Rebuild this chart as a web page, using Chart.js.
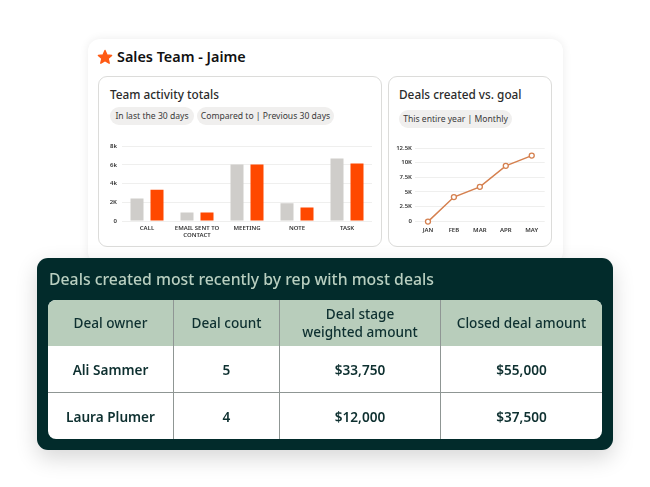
<!DOCTYPE html>
<html lang="en">
<head>
<meta charset="UTF-8">
<title>Sales Team - Jaime</title>
<script src="https://cdn.jsdelivr.net/npm/chart.js"></script>
<style>
    html, body { margin: 0; padding: 0; background: #fff; }
    body { width: 650px; height: 487px; position: relative; overflow: hidden; font-family: "Noto Sans", sans-serif; color: #1f2a2a; }
    .abs { position: absolute; white-space: nowrap; }
    .card { position: absolute; left: 88px; top: 39px; width: 475px; height: 225px; background: #fff; border-radius: 12px; box-shadow: 0 0 10px rgba(0,0,0,0.08); }
    .panel { position: absolute; top: 76px; height: 171px; background: #fff; border: 1.5px solid #dcdcda; border-radius: 9px; box-sizing: border-box; }
    .heading { font-size: 14.4px; font-weight: 600; color: #111; }
    .sub { font-size: 11.8px; font-weight: 500; color: #2b2b2b; }
    .pill { position: absolute; height: 18px; line-height: 18px; border-radius: 9px; background: #f0efee; font-size: 8.6px; text-align: center; color: #3a3a3a; white-space: nowrap; }
    canvas { position: absolute; }
    .dark { position: absolute; left: 37px; top: 258px; width: 576px; height: 192px; background: #022b2b; border-radius: 11px; box-shadow: 0 8px 22px rgba(0,0,0,0.16); }
    .dark-title { position: absolute; left: 49px; top: 268px; font-size: 15.8px; font-weight: 500; color: #b9cfc0; white-space: nowrap; }
    table { position: absolute; left: 48px; top: 300px; width: 554px; height: 139px; border-collapse: separate; border-spacing: 0; table-layout: fixed; border-radius: 8px; overflow: hidden; background: #fff; }
    th, td { text-align: center; padding: 0; font-size: 13.6px; font-weight: 600; color: #0e3030; border-right: 1px solid #8f9694; }
    th { background: #b8cdbb; font-weight: 500; line-height: 18.5px; height: 46px; }
    td { height: 46px; border-top: 1px solid #8f9694; }
    tr > :last-child { border-right: 0; }
    tbody tr:first-child td { border-top: 0; }
</style>
</head>
<body>
    <div class="card"></div>
    <svg class="abs" style="left:97px;top:49px" width="16" height="16" viewBox="0 0 16 16">
        <polygon points="8,1.5 10,6 14.6,6.4 11.1,9.5 12.2,14.2 8,11.7 3.8,14.2 4.9,9.5 1.4,6.4 6,6" fill="#ff5a14" stroke="#ff5a14" stroke-width="1.4" stroke-linejoin="round"/>
    </svg>
    <div class="abs heading" id="mainTitle" style="left:117px;top:47px"></div>

    <div class="panel" style="left:98px;width:284px"></div>
    <div class="abs sub" id="barTitle" style="left:110px;top:86px"></div>
    <div class="pill" id="pill1" style="left:110px;top:107px;width:84px"></div>
    <div class="pill" id="pill2" style="left:197px;top:107px;width:137px"></div>
    <canvas id="barChart" width="272" height="107" style="left:100px;top:138px"></canvas>

    <div class="panel" style="left:388px;width:164px"></div>
    <div class="abs sub" id="lineTitle" style="left:399px;top:86px"></div>
    <div class="pill" id="pill3" style="left:399px;top:110px;width:113px"></div>
    <canvas id="lineChart" width="158" height="97" style="left:392px;top:140px"></canvas>

    <div class="dark"></div>
    <div class="dark-title" id="tableTitle"></div>
    <table id="dealTable">
        <colgroup><col style="width:126px"><col style="width:106px"><col style="width:161px"><col style="width:161px"></colgroup>
        <thead><tr></tr></thead>
        <tbody></tbody>
    </table>

    <script>
        // Bar chart data
        const barCategories = [["CALL"], ["EMAIL SENT TO", "CONTACT"], ["MEETING"], ["NOTE"], ["TASK"]];
        const previousPeriod = [2400, 900, 6050, 1900, 6700];
        const currentPeriod = [3350, 900, 6050, 1450, 6150];
        const barTickLabels = ["0", "2K", "4k", "6k", "8k"];

        // Line chart data
        const months = ["JAN", "FEB", "MAR", "APR", "MAY"];
        const dealsCreated = [-100, 4100, 5850, 9450, 11200];
        const lineTickLabels = ["0", "2.5K", "5K", "7.5K", "10K", "12.5K"];

        // Table data
        const tableHeaders = ["Deal owner", "Deal count", "Deal stage<br>weighted amount", "Closed deal amount"];
        const dealOwners = ["Ali Sammer", "Laura Plumer"];
        const dealCounts = ["5", "4"];
        const weightedAmounts = ["$33,750", "$12,000"];
        const closedAmounts = ["$55,000", "$37,500"];

        document.getElementById('mainTitle').textContent = "Sales Team - Jaime";
        document.getElementById('barTitle').textContent = "Team activity totals";
        document.getElementById('lineTitle').textContent = "Deals created vs. goal";
        document.getElementById('pill1').textContent = "In last the 30 days";
        document.getElementById('pill2').textContent = "Compared to | Previous 30 days";
        document.getElementById('pill3').textContent = "This entire year | Monthly";
        document.getElementById('tableTitle').textContent = "Deals created most recently by rep with most deals";

        const headRow = document.querySelector('#dealTable thead tr');
        tableHeaders.forEach(h => {
            const th = document.createElement('th');
            th.innerHTML = h;
            headRow.appendChild(th);
        });
        const tbody = document.querySelector('#dealTable tbody');
        dealOwners.forEach((owner, i) => {
            const tr = document.createElement('tr');
            [owner, dealCounts[i], weightedAmounts[i], closedAmounts[i]].forEach(v => {
                const td = document.createElement('td');
                td.textContent = v;
                tr.appendChild(td);
            });
            tbody.appendChild(tr);
        });

        const tickFont = { family: "'Noto Sans', sans-serif", size: 6, weight: '600', lineHeight: 1.1 };
        const tickColor = '#333333';
        const gridColor = '#efefee';

        new Chart(document.getElementById('barChart'), {
            type: 'bar',
            data: {
                labels: barCategories,
                datasets: [
                    { label: "Previous 30 days", data: previousPeriod, backgroundColor: '#cfcdca' },
                    { label: "Last 30 days", data: currentPeriod, backgroundColor: '#ff4800' }
                ]
            },
            options: {
                responsive: false,
                animation: false,
                categoryPercentage: 0.8,
                barPercentage: 0.65,
                layout: { padding: { top: 7 } },
                plugins: { legend: { display: false }, tooltip: { enabled: false } },
                scales: {
                    x: {
                        grid: { display: false, drawTicks: false },
                        border: { display: false },
                        ticks: { font: tickFont, color: tickColor, maxRotation: 0, autoSkip: false, padding: 4 },
                        afterFit: s => { s.height = 24; }
                    },
                    y: {
                        min: 0,
                        max: 8000,
                        grid: { color: gridColor, drawTicks: false },
                        border: { display: false },
                        ticks: {
                            stepSize: 2000,
                            font: tickFont,
                            color: tickColor,
                            padding: 5,
                            callback: (v, i) => barTickLabels[i]
                        },
                        afterFit: s => { s.width = 22; }
                    }
                }
            }
        });

        new Chart(document.getElementById('lineChart'), {
            type: 'line',
            data: {
                labels: months,
                datasets: [{
                    label: "Deals created",
                    data: dealsCreated,
                    borderColor: '#d5804f',
                    borderWidth: 1.5,
                    tension: 0,
                    clip: false,
                    pointStyle: 'circle',
                    pointRadius: 2.5,
                    pointBorderWidth: 1.3,
                    pointBackgroundColor: '#fff',
                    pointBorderColor: '#d5804f'
                }]
            },
            options: {
                responsive: false,
                animation: false,
                layout: { padding: { top: 8 } },
                plugins: { legend: { display: false }, tooltip: { enabled: false } },
                scales: {
                    x: {
                        offset: true,
                        grid: { display: false, drawTicks: false },
                        border: { display: false },
                        ticks: { font: tickFont, color: tickColor, maxRotation: 0, autoSkip: false, padding: 6 },
                        afterFit: s => { s.height = 16; }
                    },
                    y: {
                        min: 0,
                        max: 12500,
                        grid: { color: gridColor, drawTicks: false },
                        border: { display: false },
                        ticks: {
                            stepSize: 2500,
                            font: tickFont,
                            color: tickColor,
                            padding: 3,
                            callback: (v, i) => lineTickLabels[i]
                        },
                        afterFit: s => { s.width = 23; }
                    }
                }
            }
        });
    </script>
</body>
</html>
